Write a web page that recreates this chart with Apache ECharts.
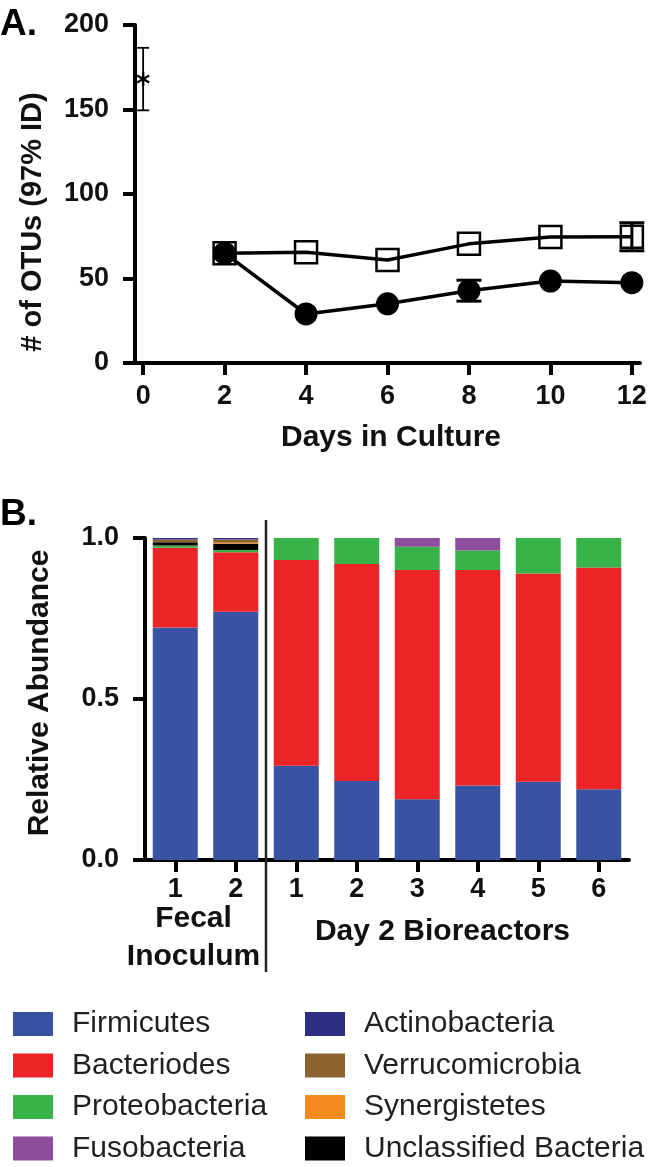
<!DOCTYPE html>
<html>
<head>
<meta charset="utf-8">
<script src="https://cdn.jsdelivr.net/npm/echarts@6/dist/echarts.min.js"></script>
<style>
html,body{margin:0;padding:0;background:#fff;}
#chart{width:650px;height:1167px;}
</style>
</head>
<body>
<div id="chart"></div>
<script>
// ---------- Panel A data ----------
const days = [2, 4, 6, 8, 10, 12];
const squareOTUs = [65, 65.5, 61, 70.5, 74.5, 74.7];
const squareErr = [0, 0, 0, 0, 0, 8.3];
const circleOTUs = [65, 29, 35, 42.8, 48.5, 47.5];
const circleErr = [0, 0, 0, 6.2, 0, 0];
const fecalDays = [0];
const fecalOTUs = [168];
const fecalErr = [18.5];
const dayTicks = [0, 2, 4, 6, 8, 10, 12];

// ---------- Panel B data ----------
const sampleLabels = ['1', '2', '1', '2', '3', '4', '5', '6'];
const firmicutes      = [0.722, 0.771, 0.293, 0.245, 0.189, 0.231, 0.243, 0.220];
const bacteriodes     = [0.248, 0.185, 0.639, 0.674, 0.712, 0.670, 0.647, 0.688];
const proteobacteria  = [0.007, 0.007, 0.068, 0.081, 0.072, 0.060, 0.110, 0.092];
const fusobacteria    = [0, 0, 0, 0, 0.027, 0.039, 0, 0];
const unclassified    = [0.010, 0.019, 0, 0, 0, 0, 0, 0];
const synergistetes   = [0, 0.003, 0, 0, 0, 0, 0, 0];
const verrucomicrobia = [0.008, 0.010, 0, 0, 0, 0, 0, 0];
const actinobacteria  = [0.005, 0.005, 0, 0, 0, 0, 0, 0];

const FONT = 'Liberation Sans, Arial, Helvetica, sans-serif';
const TXT = '#111';

const colors = {
  'Firmicutes': '#3953a4',
  'Bacteriodes': '#ec2327',
  'Proteobacteria': '#37b34a',
  'Fusobacteria': '#8e4e9e',
  'Actinobacteria': '#2b2e83',
  'Verrucomicrobia': '#8d6431',
  'Synergistetes': '#f58a1f',
  'Unclassified Bacteria': '#000000'
};

const stackSeries = [
  ['Firmicutes', firmicutes],
  ['Bacteriodes', bacteriodes],
  ['Proteobacteria', proteobacteria],
  ['Fusobacteria', fusobacteria],
  ['Unclassified Bacteria', unclassified],
  ['Synergistetes', synergistetes],
  ['Verrucomicrobia', verrucomicrobia],
  ['Actinobacteria', actinobacteria]
];

function errData(xs, ys, es) {
  const out = [];
  xs.forEach((x, i) => { if (es[i] > 0) out.push([x, ys[i] - es[i], ys[i] + es[i]]); });
  return out;
}

function errRender(capHalf, lw) {
  return function (params, api) {
    const x = api.value(0), lo = api.value(1), hi = api.value(2);
    const p0 = api.coord([x, lo]);
    const p1 = api.coord([x, hi]);
    const st = { stroke: '#000', lineWidth: lw };
    return {
      type: 'group',
      children: [
        { type: 'line', shape: { x1: p0[0], y1: p0[1], x2: p1[0], y2: p1[1] }, style: st },
        { type: 'line', shape: { x1: p0[0] - capHalf, y1: p0[1], x2: p0[0] + capHalf, y2: p0[1] }, style: st },
        { type: 'line', shape: { x1: p1[0] - capHalf, y1: p1[1], x2: p1[0] + capHalf, y2: p1[1] }, style: st }
      ]
    };
  };
}

// asterisk marker drawn as three crossing strokes at the data point
function asteriskRender(params, api) {
  const c = api.coord([api.value(0), api.value(1)]);
  const r = 7, dx = r * Math.cos(Math.PI / 6), dy = r * Math.sin(Math.PI / 6);
  const st = { stroke: '#000', lineWidth: 2.4 };
  return {
    type: 'group',
    children: [
      { type: 'line', shape: { x1: c[0], y1: c[1] - r, x2: c[0], y2: c[1] + r }, style: st },
      { type: 'line', shape: { x1: c[0] - dx, y1: c[1] - dy, x2: c[0] + dx, y2: c[1] + dy }, style: st },
      { type: 'line', shape: { x1: c[0] - dx, y1: c[1] + dy, x2: c[0] + dx, y2: c[1] - dy }, style: st }
    ]
  };
}

const axisLineStyle = { color: '#000', width: 4 };
const tickLabelStyle = { fontFamily: FONT, fontWeight: 'bold', fontSize: 27, color: TXT };

const chart = echarts.init(document.getElementById('chart'), null, { renderer: 'canvas' });

const option = {
  animation: false,
  backgroundColor: '#fff',
  grid: [
    { left: 135, right: 10, top: 25, height: 338 },
    { left: 145, width: 484, top: 538, height: 322 }
  ],
  xAxis: [
    {
      type: 'value', gridIndex: 0, min: -0.2, max: 12.2,
      axisLine: { show: true, onZero: false, lineStyle: axisLineStyle },
      axisTick: { show: true, customValues: dayTicks, length: 12, lineStyle: { width: 4, color: '#000' } },
      axisLabel: { show: true, customValues: dayTicks, margin: 20, ...tickLabelStyle },
      splitLine: { show: false }
    },
    {
      type: 'category', gridIndex: 1, data: sampleLabels,
      axisLine: { show: true, lineStyle: axisLineStyle },
      axisTick: { show: true, alignWithLabel: true, length: 12, lineStyle: { width: 4, color: '#000' } },
      axisLabel: { show: true, margin: 16, ...tickLabelStyle },
      splitLine: { show: false }
    }
  ],
  yAxis: [
    {
      type: 'value', gridIndex: 0, min: 0, max: 200, interval: 50,
      axisLine: { show: true, onZero: false, lineStyle: axisLineStyle },
      axisTick: { show: true, length: 12, lineStyle: { width: 4, color: '#000' } },
      axisLabel: { margin: 26, ...tickLabelStyle },
      splitLine: { show: false }
    },
    {
      type: 'value', gridIndex: 1, min: 0, max: 1, interval: 0.5,
      axisLine: { show: true, onZero: false, lineStyle: axisLineStyle },
      axisTick: { show: true, length: 12, lineStyle: { width: 4, color: '#000' } },
      axisLabel: { margin: 26, formatter: v => v.toFixed(1), ...tickLabelStyle },
      splitLine: { show: false }
    }
  ],
  legend: [
    {
      data: ['Firmicutes', 'Bacteriodes', 'Proteobacteria', 'Fusobacteria'],
      orient: 'vertical', left: 13, top: 1009, padding: 0,
      itemWidth: 40, itemHeight: 24, itemGap: 11.5, icon: 'rect', selectedMode: false,
      textStyle: { fontFamily: FONT, fontSize: 30, color: '#231f20', lineHeight: 30, padding: [0, 0, 0, 14] }
    },
    {
      data: ['Actinobacteria', 'Verrucomicrobia', 'Synergistetes', 'Unclassified Bacteria'],
      orient: 'vertical', left: 305, top: 1009, padding: 0,
      itemWidth: 40, itemHeight: 24, itemGap: 11.5, icon: 'rect', selectedMode: false,
      textStyle: { fontFamily: FONT, fontSize: 30, color: '#231f20', lineHeight: 30, padding: [0, 0, 0, 14] }
    }
  ],
  series: [
    {
      type: 'custom', name: 'fecalErr', xAxisIndex: 0, yAxisIndex: 0, z: 1,
      renderItem: errRender(6, 1.8), data: errData(fecalDays, fecalOTUs, fecalErr)
    },
    {
      type: 'custom', name: 'squareErr', xAxisIndex: 0, yAxisIndex: 0, z: 1,
      renderItem: errRender(12.5, 3), data: errData(days, squareOTUs, squareErr)
    },
    {
      type: 'custom', name: 'circleErr', xAxisIndex: 0, yAxisIndex: 0, z: 1,
      renderItem: errRender(12.5, 3), data: errData(days, circleOTUs, circleErr)
    },
    {
      type: 'custom', name: 'Fecal', xAxisIndex: 0, yAxisIndex: 0, z: 3,
      renderItem: asteriskRender,
      data: fecalDays.map((d, i) => [d, fecalOTUs[i]])
    },
    {
      type: 'line', name: 'Squares', xAxisIndex: 0, yAxisIndex: 0, z: 3,
      symbol: 'rect', symbolSize: 22, showAllSymbol: true,
      lineStyle: { color: '#000', width: 3.5 },
      itemStyle: { color: 'rgba(0,0,0,0)', borderColor: '#000', borderWidth: 2.5 },
      data: days.map((d, i) => [d, squareOTUs[i]])
    },
    {
      type: 'line', name: 'Circles', xAxisIndex: 0, yAxisIndex: 0, z: 4,
      symbol: 'circle', symbolSize: 23, showAllSymbol: true,
      lineStyle: { color: '#000', width: 3.5 },
      itemStyle: { color: '#000', borderWidth: 0 },
      data: days.map((d, i) => [d, circleOTUs[i]])
    },
    ...stackSeries.map(([name, vals]) => ({
      type: 'bar', name: name, xAxisIndex: 1, yAxisIndex: 1, stack: 'abund',
      barWidth: 45, itemStyle: { color: colors[name] },
      data: vals
    }))
  ],
  graphic: []
};

chart.setOption(option);

// separator between sample groups, located from the category axis
const pA = chart.convertToPixel({ xAxisIndex: 1 }, 1);
const pB = chart.convertToPixel({ xAxisIndex: 1 }, 2);
const sepX = (pA + pB) / 2;
const fecalX = chart.convertToPixel({ xAxisIndex: 1 }, 0) * 0.5 + pA * 0.5 - 12;
const bioX = (pB + chart.convertToPixel({ xAxisIndex: 1 }, 7)) / 2 - 5;

chart.setOption({
  graphic: [
    { type: 'text', left: 0, top: 6, style: { text: 'A.', fontFamily: FONT, fontWeight: 'bold', fontSize: 37, fill: '#000' } },
    { type: 'text', left: 0, top: 496, style: { text: 'B.', fontFamily: FONT, fontWeight: 'bold', fontSize: 37, fill: '#000' } },
    { type: 'text', x: 33, y: 222, rotation: Math.PI / 2,
      style: { text: '# of OTUs (97% ID)', fontFamily: FONT, fontWeight: 'bold', fontSize: 29, fill: TXT, align: 'center', verticalAlign: 'middle' } },
    { type: 'text', x: 391, y: 438,
      style: { text: 'Days in Culture', fontFamily: FONT, fontWeight: 'bold', fontSize: 30, fill: TXT, align: 'center', verticalAlign: 'middle' } },
    { type: 'text', x: 40, y: 693, rotation: Math.PI / 2,
      style: { text: 'Relative Abundance', fontFamily: FONT, fontWeight: 'bold', fontSize: 30, fill: TXT, align: 'center', verticalAlign: 'middle' } },
    { type: 'line', shape: { x1: sepX, y1: 520, x2: sepX, y2: 972 }, style: { stroke: '#222', lineWidth: 2.5 }, z: 10 },
    { type: 'text', x: fecalX, y: 919,
      style: { text: 'Fecal', fontFamily: FONT, fontWeight: 'bold', fontSize: 30, fill: TXT, align: 'center', verticalAlign: 'middle' } },
    { type: 'text', x: fecalX, y: 957,
      style: { text: 'Inoculum', fontFamily: FONT, fontWeight: 'bold', fontSize: 30, fill: TXT, align: 'center', verticalAlign: 'middle' } },
    { type: 'text', x: bioX, y: 932,
      style: { text: 'Day 2 Bioreactors', fontFamily: FONT, fontWeight: 'bold', fontSize: 30, fill: TXT, align: 'center', verticalAlign: 'middle' } }
  ]
});
</script>
</body>
</html>
